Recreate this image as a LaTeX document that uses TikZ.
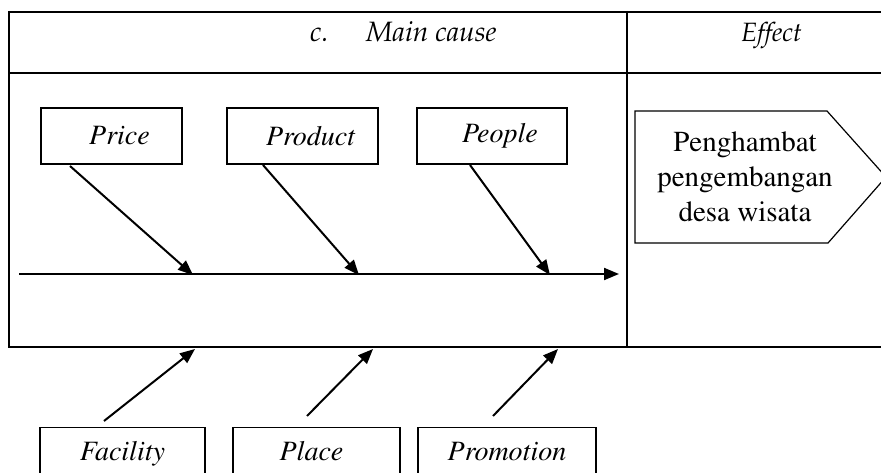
\documentclass[tikz,border=0pt]{standalone}
\usepackage[T1]{fontenc}
\newcommand\palit{\fontencoding{T1}\fontfamily{ppl}\fontseries{m}\fontshape{it}\selectfont}
\newcommand\tmsit{\fontencoding{T1}\fontfamily{ptm}\fontseries{m}\fontshape{it}\selectfont}
\newcommand\tmsup{\fontencoding{T1}\fontfamily{ptm}\fontseries{m}\fontshape{n}\selectfont}
\usetikzlibrary{arrows.meta}
\tikzset{
  tbl/.style={line width=2pt},
  causebox/.style={draw, line width=1.2pt, minimum height=56pt, inner sep=0pt,
    font=\tmsit\fontsize{28}{30}\selectfont, execute at begin node={\hspace*{16pt}}},
  lowbox/.style={draw, line width=1.2pt, anchor=north, inner xsep=0pt, inner ysep=14pt,
    text height=19pt, text depth=60pt, font=\tmsit\fontsize{28}{30}\selectfont},
  arr/.style={line width=2pt, -{Triangle[length=15pt,width=12pt]}},
  hdr/.style={anchor=base west, inner sep=0pt, font=\palit\fontsize{28}{30}\selectfont}
}
\begin{document}
\begin{tikzpicture}[x=1pt,y=-1pt]
\useasboundingbox (0,0) rectangle (881,473);
\clip (0,0) rectangle (881,473);
% table
\draw[tbl] (9,12) -- (881,12);
\draw[tbl] (9,73) -- (881,73);
\draw[tbl] (9,347) -- (881,347);
\draw[tbl] (9,11) -- (9,348);
\draw[tbl] (627,11) -- (627,348);
% header
\node[hdr] (hc) at (310,42) {c.};
\node[hdr] (hm) at (366,42) {Main cause};
\node[hdr, font=\palit\fontsize{26.5}{30}\selectfont] (he) at (741,42) {Effect};
% top cause boxes
\node[causebox, minimum width=141pt] (price) at (111.5,136) {Price};
\node[causebox, minimum width=151pt] (product) at (302.5,136) {Product};
\node[causebox, minimum width=150pt] (people) at (492,136) {People};
% bottom cause boxes
\node[lowbox, minimum width=165pt] (facility) at (122.5,427) {Facility};
\node[lowbox, minimum width=167pt, execute at end node={\hspace*{10pt}}] (place) at (316.5,427) {Place};
\node[lowbox, minimum width=178pt] (promotion) at (507,427) {Promotion};
% spine
\coordinate (sp0) at (19,274);
\coordinate (sp1) at (619,274);
\draw[arr] (sp0) -- (sp1);
% arrow ends
\coordinate (pr0) at (70,166);   \coordinate (pr1) at (193,275);
\coordinate (pd0) at (263,165);  \coordinate (pd1) at (359,275);
\coordinate (pe0) at (470,165);  \coordinate (pe1) at (550,275);
\coordinate (fa0) at (104,421);  \coordinate (fa1) at (195,349);
\coordinate (pl0) at (307,416);  \coordinate (pl1) at (373,349);
\coordinate (po0) at (493,416);  \coordinate (po1) at (558,349);
\draw[arr] (pr0) -- (pr1);
\draw[arr] (pd0) -- (pd1);
\draw[arr] (pe0) -- (pe1);
\draw[arr] (fa0) -- (fa1);
\draw[arr] (pl0) -- (pl1);
\draw[arr] (po0) -- (po1);
% effect
\draw[line width=1.2pt] (635,111) -- (827,111) -- (886,177) -- (828,243) -- (635,243) -- cycle;
\node[align=center, inner sep=0pt, font=\tmsup\fontsize{29}{35}\selectfont] (eff) at (745,177)
  {Penghambat\\pengembangan\\desa wisata};
\end{tikzpicture}
\end{document}
